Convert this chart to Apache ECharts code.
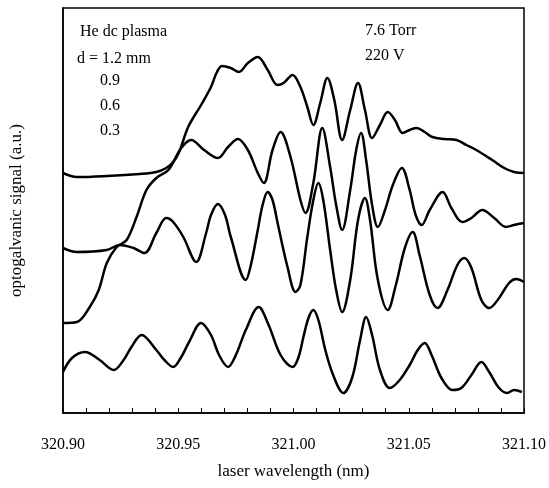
<!DOCTYPE html>
<html>
<head>
<meta charset="utf-8">
<script src="https://cdn.jsdelivr.net/npm/echarts@6/dist/echarts.min.js"></script>
<style>
  html, body { margin: 0; padding: 0; background: #fff; }
  #main { width: 549px; height: 488px; }
</style>
</head>
<body>
<div id="main"></div>
<script>
// wavelength (nm), signal (a.u.)
const d12 = [
  [320.9000, 240], [320.9060, 236], [320.9190, 237], [320.9332, 239], [320.9405, 241],
  [320.9448, 245], [320.9478, 251], [320.9504, 261], [320.9543, 286], [320.9599, 308],
  [320.9642, 326], [320.9668, 341], [320.9690, 347], [320.9728, 345], [320.9763, 341],
  [320.9802, 350], [320.9845, 356], [320.9888, 343], [320.9931, 328], [320.9957, 330],
  [320.9996, 338], [321.0030, 326], [321.0060, 306], [321.0086, 288], [321.0116, 310],
  [321.0147, 335], [321.0177, 313], [321.0211, 273], [321.0246, 303], [321.0280, 330],
  [321.0310, 303], [321.0341, 275], [321.0375, 288], [321.0409, 301], [321.0440, 293],
  [321.0474, 280], [321.0504, 283], [321.0534, 285], [321.0569, 281], [321.0603, 276],
  [321.0655, 274], [321.0707, 273], [321.0750, 268], [321.0793, 263], [321.0862, 253],
  [321.0914, 245], [321.0957, 241], [321.1000, 240]
]
const d09 = [
  [320.9000, 90], [320.9060, 91], [320.9116, 106], [320.9155, 123], [320.9190, 150],
  [320.9233, 166], [320.9276, 173], [320.9319, 196], [320.9362, 223], [320.9405, 235],
  [320.9457, 243], [320.9513, 265], [320.9556, 273], [320.9612, 263], [320.9672, 255],
  [320.9716, 266], [320.9759, 274], [320.9802, 263], [320.9845, 240], [320.9871, 230],
  [320.9909, 263], [320.9944, 281], [320.9987, 256], [321.0030, 213], [321.0052, 200],
  [321.0086, 230], [321.0125, 285], [321.0159, 246], [321.0185, 208], [321.0211, 183],
  [321.0246, 223], [321.0272, 263], [321.0293, 280], [321.0315, 253], [321.0341, 208],
  [321.0366, 186], [321.0397, 203], [321.0431, 228], [321.0470, 245], [321.0504, 223],
  [321.0530, 198], [321.0556, 188], [321.0591, 203], [321.0647, 221], [321.0685, 205],
  [321.0733, 191], [321.0772, 195], [321.0819, 203], [321.0871, 195], [321.0922, 186],
  [321.0957, 188], [321.1000, 190]
]
const d06 = [
  [320.9000, 165], [320.9060, 161], [320.9190, 163], [320.9246, 168], [320.9306, 165],
  [320.9353, 160], [320.9405, 180], [320.9448, 195], [320.9478, 191], [320.9522, 176],
  [320.9578, 151], [320.9621, 180], [320.9642, 198], [320.9672, 209], [320.9703, 198],
  [320.9728, 176], [320.9793, 133], [320.9815, 148], [320.9845, 183], [320.9866, 208],
  [320.9888, 221], [320.9909, 213], [320.9931, 190], [320.9974, 146], [321.0009, 121],
  [321.0030, 128], [321.0060, 176], [321.0086, 213], [321.0108, 230], [321.0129, 213],
  [321.0159, 163], [321.0185, 123], [321.0211, 101], [321.0246, 133], [321.0280, 193],
  [321.0310, 215], [321.0332, 193], [321.0366, 133], [321.0409, 103], [321.0444, 128],
  [321.0483, 165], [321.0517, 181], [321.0547, 158], [321.0591, 118], [321.0625, 105],
  [321.0668, 123], [321.0711, 148], [321.0741, 155], [321.0772, 145], [321.0815, 113],
  [321.0849, 105], [321.0892, 115], [321.0935, 130], [321.0966, 134], [321.1000, 131]
]
const d03 = [
  [320.9000, 41], [320.9039, 55], [320.9095, 61], [320.9159, 53], [320.9220, 43],
  [320.9263, 53], [320.9297, 66], [320.9341, 78], [320.9405, 63], [320.9440, 53],
  [320.9478, 46], [320.9513, 56], [320.9547, 71], [320.9599, 90], [320.9642, 78],
  [320.9677, 58], [320.9716, 46], [320.9750, 58], [320.9793, 83], [320.9849, 106],
  [320.9892, 88], [320.9944, 58], [320.9996, 46], [321.0022, 56], [321.0043, 76],
  [321.0065, 95], [321.0086, 103], [321.0108, 93], [321.0138, 63], [321.0172, 38],
  [321.0216, 20], [321.0254, 35], [321.0289, 73], [321.0315, 96], [321.0341, 78],
  [321.0375, 43], [321.0418, 25], [321.0461, 33], [321.0504, 48], [321.0539, 63],
  [321.0569, 70], [321.0599, 58], [321.0642, 35], [321.0690, 23], [321.0728, 25],
  [321.0772, 38], [321.0815, 51], [321.0849, 41], [321.0892, 25], [321.0927, 20],
  [321.0957, 23], [321.0991, 21]
]
const xTickLabels = ['320.90', '320.95', '321.00', '321.05', '321.10']
const noteLeft = ['He dc plasma', 'd = 1.2 mm', '0.9', '0.6', '0.3']
const noteRight = ['7.6 Torr', '220 V']

const font = 'Liberation Serif'
const chart = echarts.init(document.getElementById('main'))

function line(data) {
  return {
    type: 'line',
    data: data,
    smooth: 0.35,
    showSymbol: false,
    lineStyle: { color: '#000', width: 2.5 },
    z: 3
  }
}

function note(text, x, y) {
  return {
    type: 'text',
    left: x,
    top: y,
    style: { text: text, fill: '#000', font: '16px "' + font + '"' }
  }
}

const option = {
  animation: false,
  backgroundColor: '#fff',
  grid: {
    left: 61, right: 24, top: 8, bottom: 75,
    show: true, borderColor: '#000', borderWidth: 1.5
  },
  xAxis: {
    type: 'value',
    min: 320.9,
    max: 321.1,
    interval: 0.01,
    name: 'laser wavelength (nm)',
    nameLocation: 'middle',
    nameGap: 50,
    nameTextStyle: { fontFamily: font, fontSize: 17, color: '#000' },
    axisLine: { lineStyle: { color: '#000', width: 1.5 } },
    axisTick: { inside: true, length: 5, lineStyle: { color: '#000' } },
    axisLabel: {
      margin: 24,
      fontFamily: font,
      fontSize: 16,
      color: '#000',
      formatter: function (v) {
        const k = Math.round((v - 320.9) * 100)
        return k % 5 === 0 ? xTickLabels[k / 5] : ''
      }
    },
    splitLine: { show: false }
  },
  yAxis: {
    type: 'value',
    min: 0,
    max: 405,
    name: 'optogalvanic signal (a.u.)',
    nameLocation: 'middle',
    nameGap: 38,
    nameTextStyle: { fontFamily: font, fontSize: 17, color: '#000' },
    axisLine: { show: true, lineStyle: { color: '#000', width: 1.5 } },
    axisTick: { show: false },
    axisLabel: { show: false },
    splitLine: { show: false }
  },
  graphic: [
    note(noteLeft[0], 80, 24),
    note(noteLeft[1], 77, 51),
    note(noteLeft[2], 100, 73),
    note(noteLeft[3], 100, 98),
    note(noteLeft[4], 100, 123),
    note(noteRight[0], 365, 23),
    note(noteRight[1], 365, 48)
  ],
  series: [line(d12), line(d09), line(d06), line(d03)]
}

chart.setOption(option)
</script>
</body>
</html>
